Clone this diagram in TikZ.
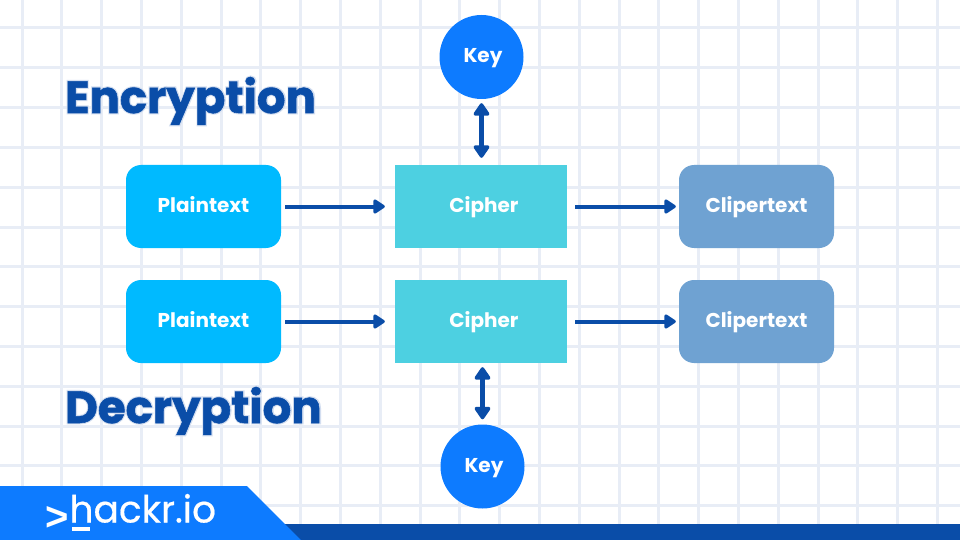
\documentclass[tikz,border=0pt]{standalone}
\usepackage{fontspec}
\setmainfont{Poppins}
\newfontface\headfont{Poppins Bold}[FakeBold=1.2]
\newfontface\glowfont{Poppins Bold}[FakeBold=6]
\newfontface\logofont{Poppins}[FakeBold=0.5]
\newfontface\chevfont{Liberation Sans Bold}
\usetikzlibrary{arrows.meta}
\definecolor{gridc}{HTML}{E8EDF6}
\definecolor{darkb}{HTML}{0A4DA8}
\definecolor{brand}{HTML}{0D7BFF}
\definecolor{plainc}{HTML}{00BAFF}
\definecolor{cipherc}{HTML}{4DD0E1}
\definecolor{clipc}{HTML}{6FA2D2}
\definecolor{glowc}{HTML}{D3DEF0}
\tikzset{
  gridline/.style={draw=gridc,line width=3pt},
  label/.style={text=white,font=\fontsize{20}{22}\selectfont\bfseries,inner sep=0pt,text height=14pt,text depth=3pt},
  plainbox/.style={fill=plainc,rounded corners=15pt,minimum width=155pt,minimum height=83pt,inner sep=0pt,label},
  cipherbox/.style={fill=cipherc,minimum width=172pt,minimum height=83pt,inner sep=0pt},
  clipbox/.style={fill=clipc,rounded corners=15pt,minimum width=155pt,minimum height=83pt,inner sep=0pt,label},
  keycircle/.style={circle,fill=brand,minimum size=84pt,inner sep=0pt},
  flow/.style={draw=darkb,line width=4pt,-{Triangle[length=13pt,width=16pt,round]}},
  keyflow/.style={draw=darkb,line width=5pt,{Triangle[length=14pt,width=18pt,round]}-{Triangle[length=14pt,width=18pt,round]}},
  heading/.style={text=darkb,font=\fontsize{45}{48}\headfont,inner sep=0pt,anchor=base west},
  headglow/.style={text=glowc,font=\fontsize{45.1}{48}\glowfont,inner sep=0pt,anchor=base west}
}
\begin{document}
\begin{tikzpicture}[x=1pt,y=-1pt]
\useasboundingbox (0,0) rectangle (960,540);
\fill[white] (0,0) rectangle (960,540);
\foreach \k in {0,...,23} \draw[gridline] ({22+39.8*\k},0) -- ({22+39.8*\k},540);
\foreach \k in {0,...,12} \draw[gridline] (0,{28+39.8*\k}) -- (960,{28+39.8*\k});
% bottom band
\fill[darkb] (280,524) rectangle (960,540);
\fill[brand] (0,486) -- (247,486) -- (301,540) -- (0,540) -- cycle;
\fill[white] (72,526.5) rectangle (90,530.5);
\node[text=white,font=\fontsize{37.5}{40}\logofont,inner sep=0pt,anchor=base west] (logo) at (45.5,522.5) {\raisebox{-7.5pt}{\fontsize{40}{40}\chevfont >}\kern0.5pt hackr.io};
% headings
\node[headglow] (encg) at (65,113) {Encryption};
\node[headglow] (decg) at (65,423) {Decryption};
\node[heading] (enc) at (65,113) {Encryption};
\node[heading] (dec) at (65,423) {Decryption};
% boxes
\node[plainbox] (p1) at (203.5,206.5) {Plaintext};
\node[cipherbox] (c1) at (481,206.5) {};
\node[label] (t1) at (484,206.5) {Cipher};
\node[clipbox] (o1) at (756.5,206.5) {Clipertext};
\node[plainbox] (p2) at (203.5,321.5) {Plaintext};
\node[cipherbox] (c2) at (481,321.5) {};
\node[label] (t2) at (484,321.5) {Cipher};
\node[clipbox] (o2) at (756.5,321.5) {Clipertext};
\node[keycircle,label] (k1) at (481.5,57) {\hspace*{3pt}Key};
\node[keycircle,label] (k2) at (482.5,466.5) {\hspace*{3pt}Key};
% connectors
\draw[flow,shorten <=4pt,shorten >=10pt] (p1) -- (c1);
\draw[flow,shorten <=8pt,shorten >=3pt] (c1) -- (o1);
\draw[flow,shorten <=4pt,shorten >=10pt] (p2) -- (c2);
\draw[flow,shorten <=8pt,shorten >=3pt] (c2) -- (o2);
\draw[keyflow,shorten <=4pt,shorten >=7pt] (k1.south) -- (k1.south |- c1.north);
\draw[keyflow,shorten <=5pt,shorten >=4pt] (k2.north) -- (k2.north |- c2.south);
\end{tikzpicture}
\end{document}
